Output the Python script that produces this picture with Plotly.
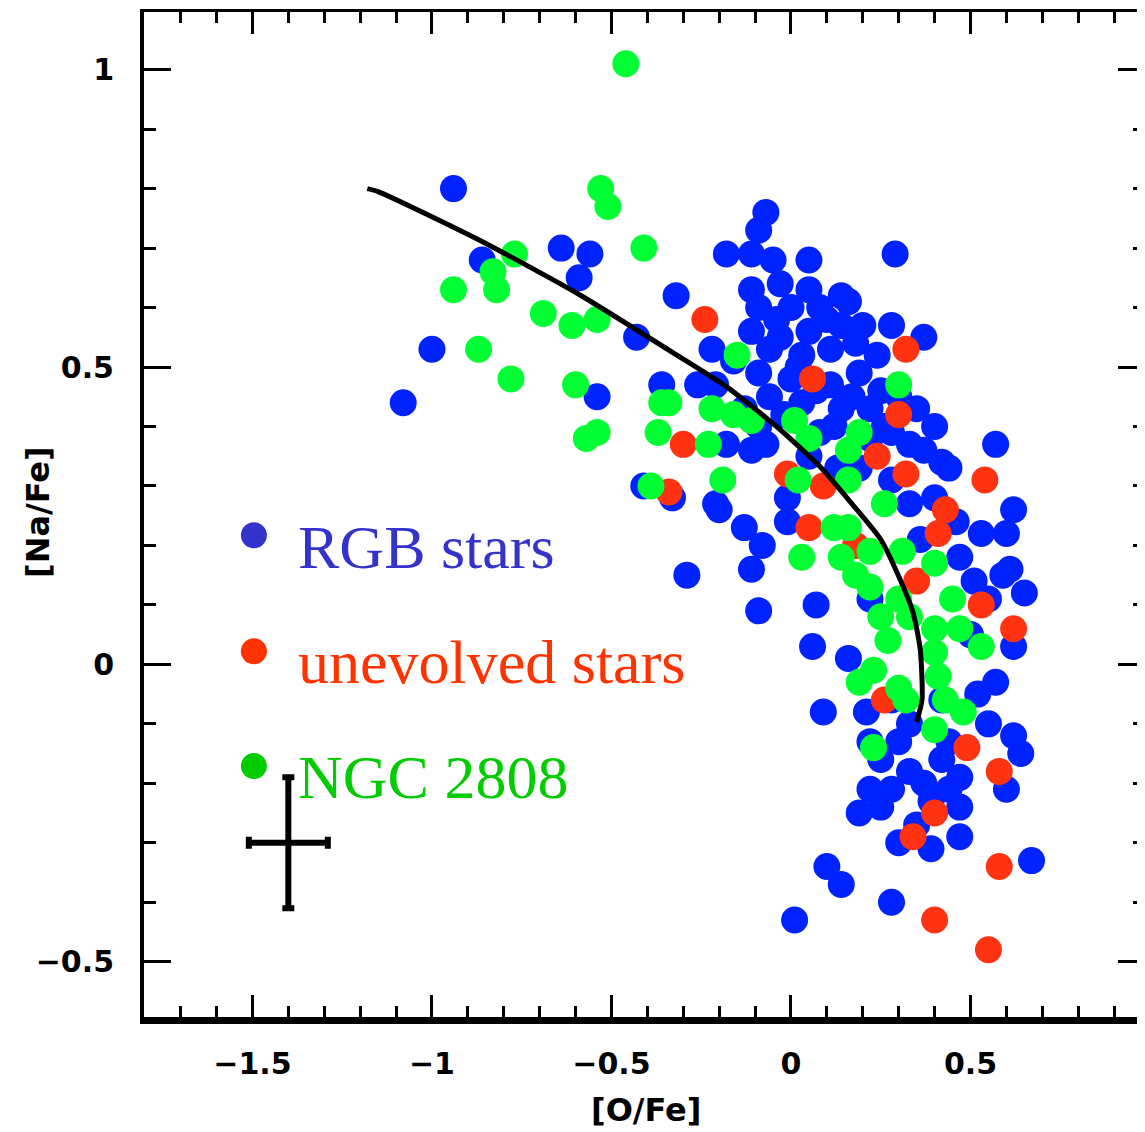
import plotly.graph_objects as go

# ---------------- data ----------------
rgb_ofe = [-1.08, -1.00, -0.94, -0.86, -0.64, -0.56, -0.59, -0.54, -0.43, -0.32, -0.41, -0.33, -0.21, -0.29,
           -0.18, -0.07, -0.11, -0.07, -0.09, -0.18, -0.11, -0.05, 0.05, 0.29, 0.28, 0.37, 0.57,
           -0.11, -0.03, 0.05, 0.14, -0.09, 0.00, 0.08, 0.16, -0.11, -0.03, 0.05, 0.14, -0.06, 0.03, 0.11, 0.18,
           -0.22, -0.16, -0.09, 0.00, 0.11, 0.19, 0.25, -0.06, 0.03, 0.14, 0.22, 0.28, -0.09, 0.08, 0.22,
           -0.26, -0.36, -0.21, 0.35, 0.40, 0.37, 0.42, 0.62, 0.60, 0.53, 0.61, 0.33, 0.40, 0.46, 0.36,
           -0.20, -0.13, -0.11, -0.08, -0.01, -0.01, 0.19, 0.28, 0.44, 0.47, 0.51, 0.22, 0.55,
           -0.09, 0.07, 0.06, 0.16, 0.09, 0.59, 0.65, 0.62, 0.57, 0.62, 0.64, 0.60, 0.21, 0.22, 0.25, 0.33,
           0.42, 0.47, 0.28, 0.39, 0.47, 0.22, 0.30, 0.44, 0.19, 0.47, 0.39, 0.67, 0.10, 0.14, 0.28, 0.01,
           0.28, 0.42,
           -0.04, 0.10, 0.02, 0.07, -0.02, 0.17, 0.12, -0.13, 0.20, 0.24, 0.30, 0.26, 0.33, 0.05, 0.13,
           0.33, 0.37, 0.25, 0.35, 0.44, 0.52, 0.50, 0.55, 0.30]
rgb_nafe = [0.44, 0.53, 0.80, 0.68, 0.70, 0.69, 0.65, 0.45, 0.55, 0.62, 0.30, 0.28, 0.27, 0.15,
            0.37, 0.37, 0.36, 0.76, 0.73, 0.69, 0.69, 0.68, 0.68, 0.69, 0.57, 0.55, 0.37,
            0.63, 0.64, 0.63, 0.62, 0.60, 0.60, 0.60, 0.61, 0.56, 0.55, 0.56, 0.57, 0.53, 0.52, 0.53, 0.54,
            0.53, 0.51, 0.49, 0.48, 0.47, 0.49, 0.46, 0.45, 0.44, 0.43, 0.43, 0.39, 0.40, 0.39, 0.38,
            0.47, 0.47, 0.47, 0.43, 0.40, 0.36, 0.34, 0.26, 0.22, 0.22, 0.16, 0.27, 0.28, 0.24, 0.21,
            0.26, 0.23, 0.16, 0.20, 0.28, 0.24, 0.33, 0.31, 0.33, 0.18, 0.14, 0.11, 0.11,
            0.09, 0.10, 0.03, 0.01, -0.08, 0.15, 0.12, 0.03, -0.03, -0.12, -0.15, -0.21, -0.08, -0.13, -0.16, -0.18,
            -0.16, -0.19, -0.21, -0.23, -0.24, -0.21, -0.13, -0.13, -0.25, -0.29, -0.31, -0.33, -0.34, -0.37, -0.40, -0.43,
            -0.06, -0.06,
            0.58, 0.58, 0.50, 0.46, 0.42, 0.45, 0.40, 0.43, 0.57, 0.52, 0.45, 0.40, 0.37, 0.35, 0.33,
            -0.10, -0.20, -0.24, -0.27, -0.21, -0.05, 0.05, -0.10, -0.30]

unev_ofe = [-0.24, -0.30, -0.34, 0.06, 0.32, 0.30, 0.24, 0.32, 0.54, 0.43, 0.41, -0.01, 0.09, 0.05,
            0.18, 0.35, 0.53, 0.62, 0.49, 0.58, 0.40, 0.34, 0.58, 0.40, 0.55, 0.26]
unev_nafe = [0.58, 0.37, 0.29, 0.48, 0.53, 0.42, 0.35, 0.32, 0.31, 0.26, 0.22, 0.32, 0.30, 0.23,
             0.20, 0.14, 0.10, 0.06, -0.14, -0.18, -0.25, -0.29, -0.34, -0.43, -0.48, -0.06]

ngc_ofe = [-0.46, -0.53, -0.51, -0.77, -0.83, -0.82, -0.94, -0.41, -0.69, -0.61, -0.54, -0.87, -0.78,
           -0.60, -0.57, -0.54, -0.15, -0.36, -0.34, -0.37, -0.22, -0.16, -0.11, -0.23, -0.19, -0.39,
           0.01, 0.05, 0.02, 0.03, 0.30, 0.19, 0.16, 0.16, 0.26, 0.16, 0.12, 0.14, 0.22, 0.31, 0.40,
           0.18, 0.25, 0.27, 0.23, 0.19, 0.30, 0.45, 0.47, 0.53, 0.41, 0.32, 0.48, 0.40, 0.23, 0.40,
           0.40, 0.22, 0.30, 0.33, 0.43]
ngc_nafe = [1.01, 0.80, 0.77, 0.69, 0.66, 0.63, 0.63, 0.70, 0.59, 0.57, 0.58, 0.53, 0.48,
            0.47, 0.38, 0.39, 0.52, 0.44, 0.44, 0.39, 0.43, 0.42, 0.41, 0.37, 0.31, 0.30,
            0.41, 0.38, 0.31, 0.18, 0.47, 0.39, 0.36, 0.31, 0.27, 0.23, 0.23, 0.18, 0.19, 0.19, 0.17,
            0.15, 0.08, 0.04, -0.01, -0.03, -0.04, 0.11, 0.06, 0.03, -0.02, -0.06, -0.08, -0.11, -0.14, 0.06,
            0.02, 0.13, 0.11, 0.08, -0.06]

curve_ofe = [-1.18, -1.15, -0.87, -0.59, -0.31, -0.18, -0.04, 0.08, 0.16, 0.25, 0.30, 0.34, 0.36, 0.365, 0.35]
curve_nafe = [0.80, 0.795, 0.714, 0.622, 0.517, 0.467, 0.400, 0.333, 0.277, 0.210, 0.148, 0.087, 0.025, -0.059, -0.097]

err_ofe = [-1.40]
err_nafe = [-0.30]
err_dx = [0.11]
err_dy = [0.11]

legend_labels = ["RGB stars", "unevolved stars", "NGC 2808"]
legend_y = [0.197, 0.004, -0.189]
legend_dot_y = [0.217, 0.022, -0.171]

x_ticks = [-1.5, -1.0, -0.5, 0.0, 0.5]
x_ticktext = ["\u22121.5", "\u22121", "\u22120.5", "0", "0.5"]
y_ticks = [-0.5, 0.0, 0.5, 1.0]
y_ticktext = ["\u22120.5", "0", "0.5", "1"]

# ---------------- style ----------------
C_BLUE, C_RED, C_GREEN = "#0022FF", "#FF3311", "#00FF33"
L_BLUE, L_RED, L_GREEN = "#3333CC", "#FF3300", "#00CC00"
XR = [-1.802, 0.986]
YR = [-0.593, 1.097]
MS = 27

fig = go.Figure()
for xs, ys, c in [(rgb_ofe, rgb_nafe, C_BLUE), (unev_ofe, unev_nafe, C_RED), (ngc_ofe, ngc_nafe, C_GREEN)]:
    fig.add_trace(go.Scatter(x=xs, y=ys, mode="markers",
                             marker=dict(size=MS, color=c, line=dict(width=0)),
                             showlegend=False, hoverinfo="skip"))

fig.add_trace(go.Scatter(x=curve_ofe, y=curve_nafe, mode="lines",
                         line=dict(color="black", width=5, shape="spline", smoothing=0.6),
                         showlegend=False, hoverinfo="skip"))

fig.add_trace(go.Scatter(x=err_ofe, y=err_nafe, mode="markers",
                         marker=dict(size=1, color="black"),
                         error_x=dict(type="data", array=err_dx, color="black", thickness=6, width=6),
                         error_y=dict(type="data", array=err_dy, color="black", thickness=6, width=6),
                         showlegend=False, hoverinfo="skip"))

# dummy trace so the mirrored top/right axes get drawn
fig.add_trace(go.Scatter(x=[None], y=[None], xaxis="x2", yaxis="y2", showlegend=False, hoverinfo="skip"))

tickfont = dict(family="DejaVu Sans", size=30, color="black", weight="bold")

common_x = dict(range=XR, showgrid=False, zeroline=False, ticks="inside", ticklen=22, tickwidth=3,
                tickcolor="black", tickvals=x_ticks,
                minor=dict(ticks="inside", ticklen=11, tickwidth=3, tickcolor="black", dtick=0.1, tick0=0,
                           showgrid=False))
common_y = dict(range=YR, showgrid=False, zeroline=False, ticks="inside", ticklen=27, tickwidth=3,
                tickcolor="black", tickvals=y_ticks,
                minor=dict(ticks="inside", ticklen=12, tickwidth=3, tickcolor="black", dtick=0.1, tick0=0,
                           showgrid=False))

# page body adds an 8px offset, so the figure is 8px smaller and shifted
fig.update_layout(
    width=1137, height=1124,
    margin=dict(l=136, r=0, t=4, b=115),
    paper_bgcolor="white", plot_bgcolor="white",
    xaxis=dict(**common_x, ticktext=x_ticktext, showline=True, linewidth=7, linecolor="black",
               tickfont=tickfont, ticklabelstandoff=14),
    yaxis=dict(**common_y, ticktext=y_ticktext, showline=True, linewidth=4, linecolor="black",
               tickfont=tickfont, ticklabelstandoff=20),
    xaxis2=dict(**common_x, overlaying="x", side="top", showline=True, linewidth=3, linecolor="black",
                showticklabels=False),
    yaxis2=dict(**common_y, overlaying="y", side="right", showline=False, showticklabels=False),
)

# axis titles
titlefont = dict(family="DejaVu Sans", size=32, color="black", weight="bold")
fig.add_annotation(text="[O/Fe]", xref="x domain", yref="y domain", x=0.5015, y=-0.0925,
                   showarrow=False, font=titlefont, xanchor="center", yanchor="middle")
fig.add_annotation(text="[Na/Fe]", xref="x domain", yref="y domain", x=-0.1059, y=0.5025,
                   showarrow=False, font=titlefont, textangle=-90, xanchor="center", yanchor="middle")

# in-plot legend
for lab, ty, dy, lc in zip(legend_labels, legend_y, legend_dot_y, [L_BLUE, L_RED, L_GREEN]):
    fig.add_annotation(text=lab, x=-1.379, y=ty, xref="x", yref="y", showarrow=False,
                       xanchor="left", yanchor="middle",
                       font=dict(family="Liberation Serif", size=62, color=lc))
    fig.add_shape(type="circle", xref="x", yref="y", xsizemode="pixel", ysizemode="pixel",
                  xanchor=-1.496, yanchor=dy, x0=-13, x1=13, y0=-13, y1=13,
                  fillcolor=lc, line=dict(width=0))

fig.write_html("out.html")
